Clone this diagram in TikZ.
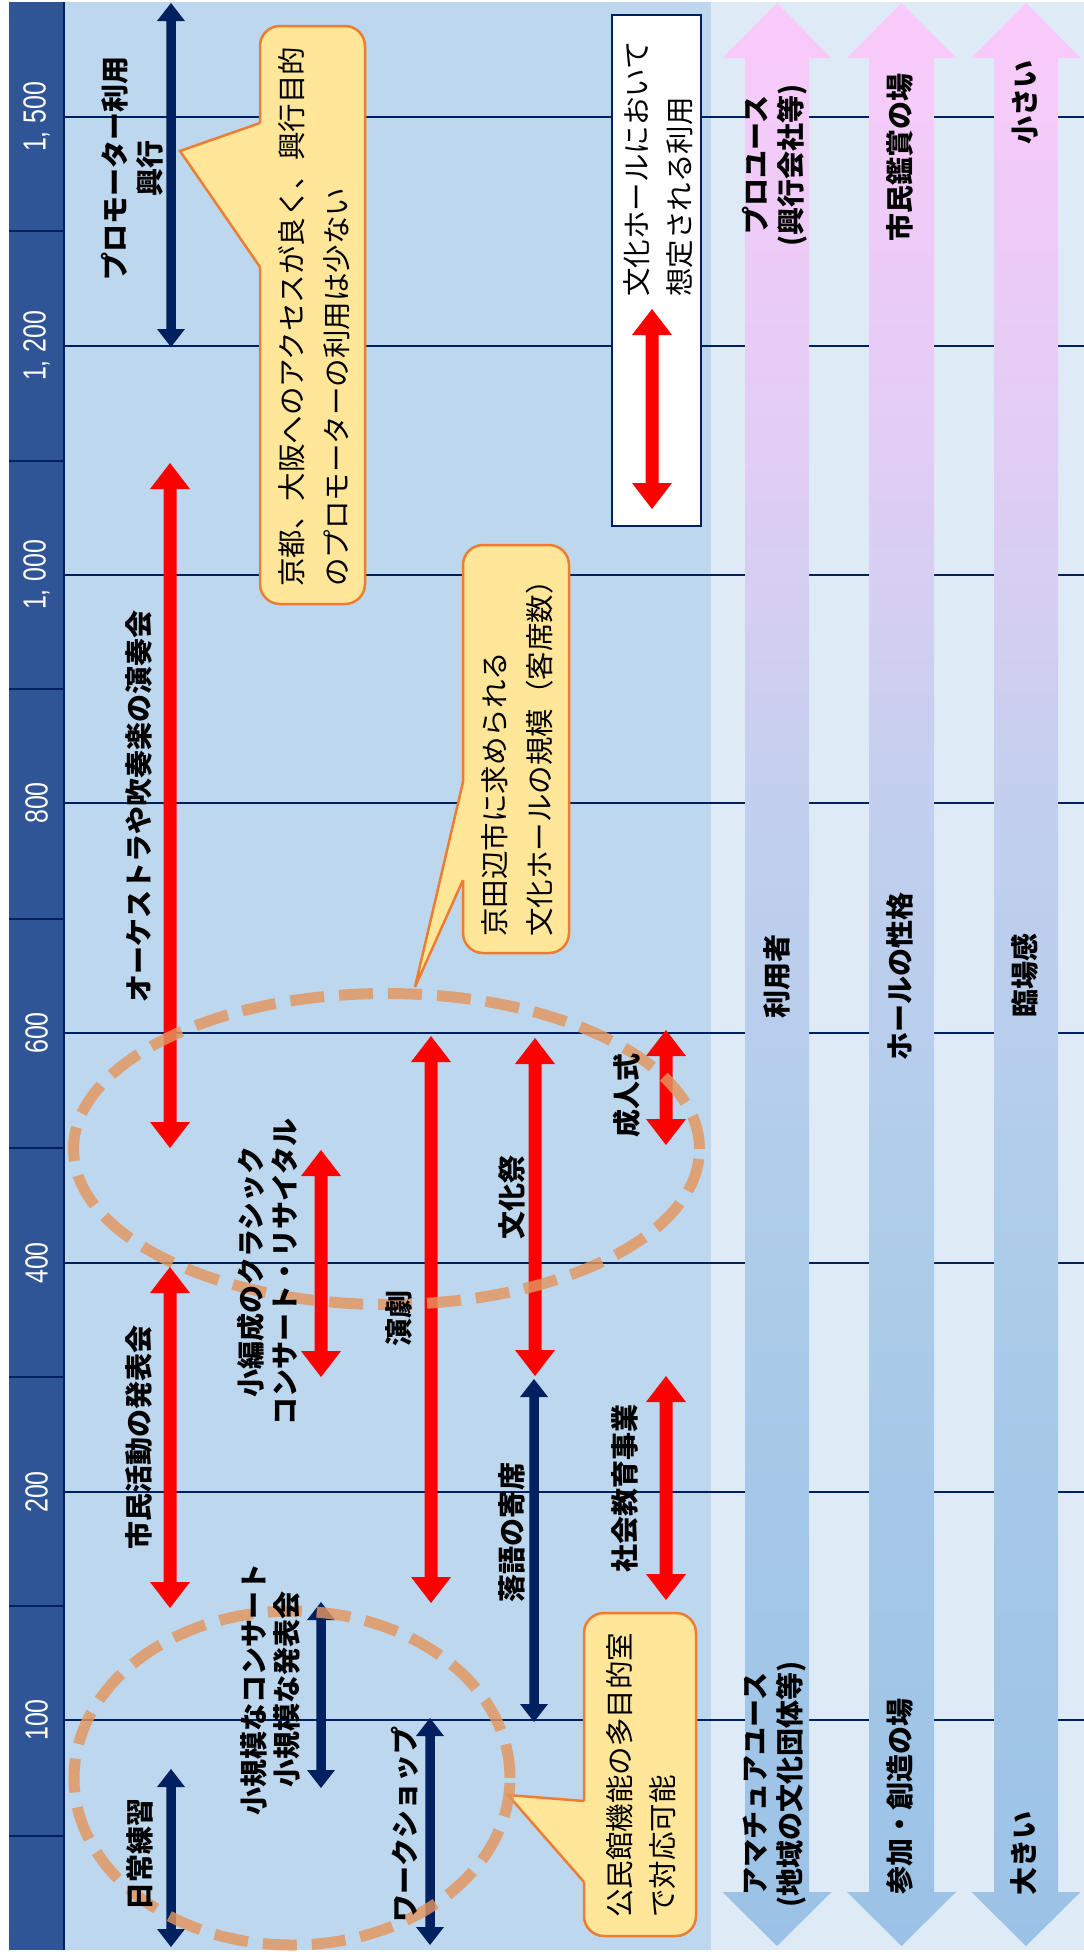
\documentclass[tikz,border=0pt]{standalone}
\usepackage{fontspec}
\usepackage{graphicx}
\usetikzlibrary{calc}
\newfontfamily\jp{Noto Sans CJK JP}
\newfontfamily\axf{Liberation Sans}
\definecolor{band}{RGB}{47,85,151}
\definecolor{plotbg}{RGB}{189,215,238}
\definecolor{rightbg}{RGB}{222,235,247}
\definecolor{navy}{RGB}{0,32,96}
\definecolor{rangered}{RGB}{255,0,0}
\definecolor{cofill}{RGB}{255,230,153}
\definecolor{coline}{RGB}{237,125,49}
\definecolor{ellc}{RGB}{228,150,94}
\definecolor{sA}{RGB}{155,194,230}
\definecolor{sB}{RGB}{165,200,232}
\definecolor{sC}{RGB}{175,205,234}
\definecolor{sD}{RGB}{195,207,238}
\definecolor{sE}{RGB}{225,205,245}
\definecolor{sF}{RGB}{250,202,250}
\pgfdeclareverticalshading{bigarr}{100bp}{color(0bp)=(sA); color(25bp)=(sA); color(36.5bp)=(sB); color(44.2bp)=(sC); color(54.5bp)=(sD); color(63.2bp)=(sE); color(75bp)=(sF); color(100bp)=(sF)}
% range bars between two named coordinates (top, bottom)
\newcommand\redbar[2]{\fill[rangered] (#1) -- ($(#1)+(20,26)$) -- ($(#1)+(6.5,26)$) -- ($(#2)+(6.5,-26)$) -- ($(#2)+(20,-26)$) -- (#2) -- ($(#2)+(-20,-26)$) -- ($(#2)+(-6.5,-26)$) -- ($(#1)+(-6.5,26)$) -- ($(#1)+(-20,26)$) -- cycle;}
\newcommand\navybar[2]{\fill[navy] (#1) -- ($(#1)+(14,18)$) -- ($(#1)+(4.75,18)$) -- ($(#2)+(4.75,-18)$) -- ($(#2)+(14,-18)$) -- (#2) -- ($(#2)+(-14,-18)$) -- ($(#2)+(-4.75,-18)$) -- ($(#1)+(-4.75,18)$) -- ($(#1)+(-14,18)$) -- cycle;}
% big gradient double arrow, centre x, half shaft, half head
\newcommand\bigarrow[3]{\shade[shading=bigarr] (#1,3) -- (#1+#3,58) -- (#1+#2,58) -- (#1+#2,1892) -- (#1+#3,1892) -- (#1,1946) -- (#1-#3,1892) -- (#1-#2,1892) -- (#1-#2,58) -- (#1-#3,58) -- cycle;}
% callout: L,T,R,B, base1, base2, tipx, tipy
\newcommand\callout[8]{%
 \filldraw[cobox] (#1,#2) rectangle (#3,#4);
 \fill[cofill] (#7,#8) -- (#1,#5) -- (#1+4,#5) -- (#1+4,#6) -- (#1,#6) -- cycle;
 \draw[draw=coline, line width=2.5pt, line join=miter] (#1,#5) -- (#7,#8) -- (#1,#6);}
\newcommand\thou[2]{\scalebox{0.78}[1]{#1,}\hspace{7.5pt}\scalebox{0.78}[1]{#2}}
\newcommand\hun[1]{\scalebox{0.78}[1]{#1}}
\begin{document}
\begin{tikzpicture}[x=1pt,y=-1pt,
  lab/.style={font=\jp\bfseries\fontsize{28}{34}\selectfont, rotate=90, align=center, inner sep=0pt, text=black},
  biglab/.style={font=\jp\bfseries\fontsize{28}{35}\selectfont, rotate=90, align=center, inner sep=0pt, text=black},
  cotext/.style={font=\jp\fontsize{28.5}{45}\selectfont, rotate=90, align=left, anchor=west, inner sep=0pt, text=black},
  cotextb/.style={font=\jp\fontsize{28.5}{43}\selectfont, rotate=90, align=left, anchor=west, inner sep=0pt, text=black},
  axlab/.style={font=\axf\fontsize{32}{32}\selectfont, rotate=90, text=white, inner sep=0pt},
  gridline/.style={draw=navy, line width=2pt},
  ell/.style={draw=ellc, draw opacity=0.82, line width=11pt, dash pattern=on 34pt off 15pt},
  cobox/.style={fill=cofill, draw=coline, line width=2.5pt, rounded corners=20pt},
]
\useasboundingbox (0,0) rectangle (1084,1955);
\fill[white] (0,0) rectangle (1084,1955);
% backgrounds
\fill[band] (9,2) rectangle (64,1950);
\fill[plotbg] (64,2) rectangle (711,1950);
\fill[rightbg] (711,2) rectangle (1084,1950);
% grid
\foreach \yy in {117,346,575,803,1033,1263,1492,1720} \draw[gridline] (64,\yy) -- (1084,\yy);
\foreach \yy in {231,461,689,919,1148,1377,1606,1836} \draw[gridline] (9,\yy) -- (64,\yy);
\draw[gridline] (64,2) -- (64,1950);
% axis labels
\node[axlab] (ax1500) at (36.5,117) {\thou{1}{500}};
\node[axlab] (ax1200) at (36.5,346) {\thou{1}{200}};
\node[axlab] (ax1000) at (36.5,575) {\thou{1}{000}};
\node[axlab] (ax800) at (36.5,803) {\hun{800}};
\node[axlab] (ax600) at (36.5,1033) {\hun{600}};
\node[axlab] (ax400) at (36.5,1263) {\hun{400}};
\node[axlab] (ax200) at (36.5,1492) {\hun{200}};
\node[axlab] (ax100) at (36.5,1720) {\hun{100}};
% big gradient arrows
\bigarrow{777}{32}{54.5}
\bigarrow{901.5}{32.5}{54.5}
\bigarrow{1026}{32}{54.5}
% legend
\draw[draw=navy, fill=white, line width=2pt] (612,15) rectangle (701,526);
\coordinate (lg-t) at (652,309);
\coordinate (lg-b) at (652,509);
\redbar{lg-t}{lg-b}
\node[cotextb] (legend) at (658.5,297) {文化ホールにおいて\\想定される利用};
% callouts
\callout{260}{26}{365}{604}{123}{267}{180}{151}
\callout{463}{545}{569}{953}{782}{880}{415}{987}
\callout{584}{1613}{696}{1936}{1801}{1882}{508}{1795}
\node[cotext] (co1) at (314.5,587) {京都、大阪へのアクセスが良く、興行目的\\のプロモーターの利用は少ない};
\node[cotext] (co2) at (517.5,937) {京田辺市に求められる\\文化ホールの規模（客席数）};
\node[cotextb] (co3) at (641.5,1918) {公民館機能の多目的室\\で対応可能};
% range coordinates
\coordinate (pr-t) at (171,3);    \coordinate (pr-b) at (171,347);
\coordinate (or-t) at (170,463);  \coordinate (or-b) at (170,1148);
\coordinate (sh-t) at (170,1267); \coordinate (sh-b) at (170,1608);
\coordinate (ni-t) at (171,1769); \coordinate (ni-b) at (171,1947);
\coordinate (kc-t) at (321,1150); \coordinate (kc-b) at (321,1377);
\coordinate (ks-t) at (321,1602); \coordinate (ks-b) at (321,1788);
\coordinate (en-t) at (431,1036); \coordinate (en-b) at (431,1603);
\coordinate (ws-t) at (430,1718); \coordinate (ws-b) at (430,1945);
\coordinate (bk-t) at (535,1038); \coordinate (bk-b) at (535,1376);
\coordinate (ra-t) at (534,1379); \coordinate (ra-b) at (534,1722);
\coordinate (se-t) at (666,1030); \coordinate (se-b) at (666,1145);
\coordinate (sk-t) at (666,1376); \coordinate (sk-b) at (666,1600);
\navybar{pr-t}{pr-b}
\redbar{or-t}{or-b}
\redbar{sh-t}{sh-b}
\navybar{ni-t}{ni-b}
\redbar{kc-t}{kc-b}
\navybar{ks-t}{ks-b}
\redbar{en-t}{en-b}
\navybar{ws-t}{ws-b}
\redbar{bk-t}{bk-b}
\navybar{ra-t}{ra-b}
\redbar{se-t}{se-b}
\redbar{sk-t}{sk-b}
% dashed ellipses
\begin{scope}
\clip (64,2) rectangle (1084,1950);
\coordinate (elA) at (292,1778);
\coordinate (elB) at (386.5,1149);
\draw[ell] (elA) ellipse [x radius=218pt, y radius=167pt];
\draw[ell] (elB) ellipse [x radius=313pt, y radius=155.5pt];
\end{scope}
% labels
\node[lab, font=\jp\bfseries\fontsize{28}{35}\selectfont] (l-pr) at (132.5,168) {プロモーター利用\\興行};
\node[lab] (l-or) at (139,806) {オーケストラや吹奏楽の演奏会};
\node[lab] (l-sh) at (139,1437) {市民活動の発表会};
\node[lab] (l-kc) at (267,1272) {小編成のクラシック\\コンサート・リサイタル};
\node[lab, font=\jp\bfseries\fontsize{28}{33}\selectfont] (l-ks) at (270.5,1689) {小規模なコンサート\\小規模な発表会};
\node[lab] (l-ni) at (140,1854) {日常練習};
\node[lab] (l-en) at (399,1318) {演劇};
\node[lab] (l-bk) at (512,1197) {文化祭};
\node[lab] (l-ra) at (512,1532) {落語の寄席};
\node[lab] (l-se) at (627,1095) {成人式};
\node[lab] (l-sk) at (625,1488) {社会教育事業};
\node[lab] (l-ws) at (405,1824) {ワークショップ};
% big arrow labels
\node[biglab] (a1t) at (774.5,165) {プロユース\\(興行会社等)};
\node[biglab] (a1m) at (777,976) {利用者};
\node[biglab] (a1b) at (774.5,1784) {アマチュアユース\\(地域の文化団体等)};
\node[biglab] (a2t) at (900,157) {市民鑑賞の場};
\node[biglab] (a2m) at (900,976) {ホールの性格};
\node[biglab] (a2b) at (900,1796) {参加・創造の場};
\node[biglab] (a3t) at (1025,102) {小さい};
\node[biglab] (a3m) at (1025,975) {臨場感};
\node[biglab] (a3b) at (1024,1853) {大きい};
\end{tikzpicture}
\end{document}
